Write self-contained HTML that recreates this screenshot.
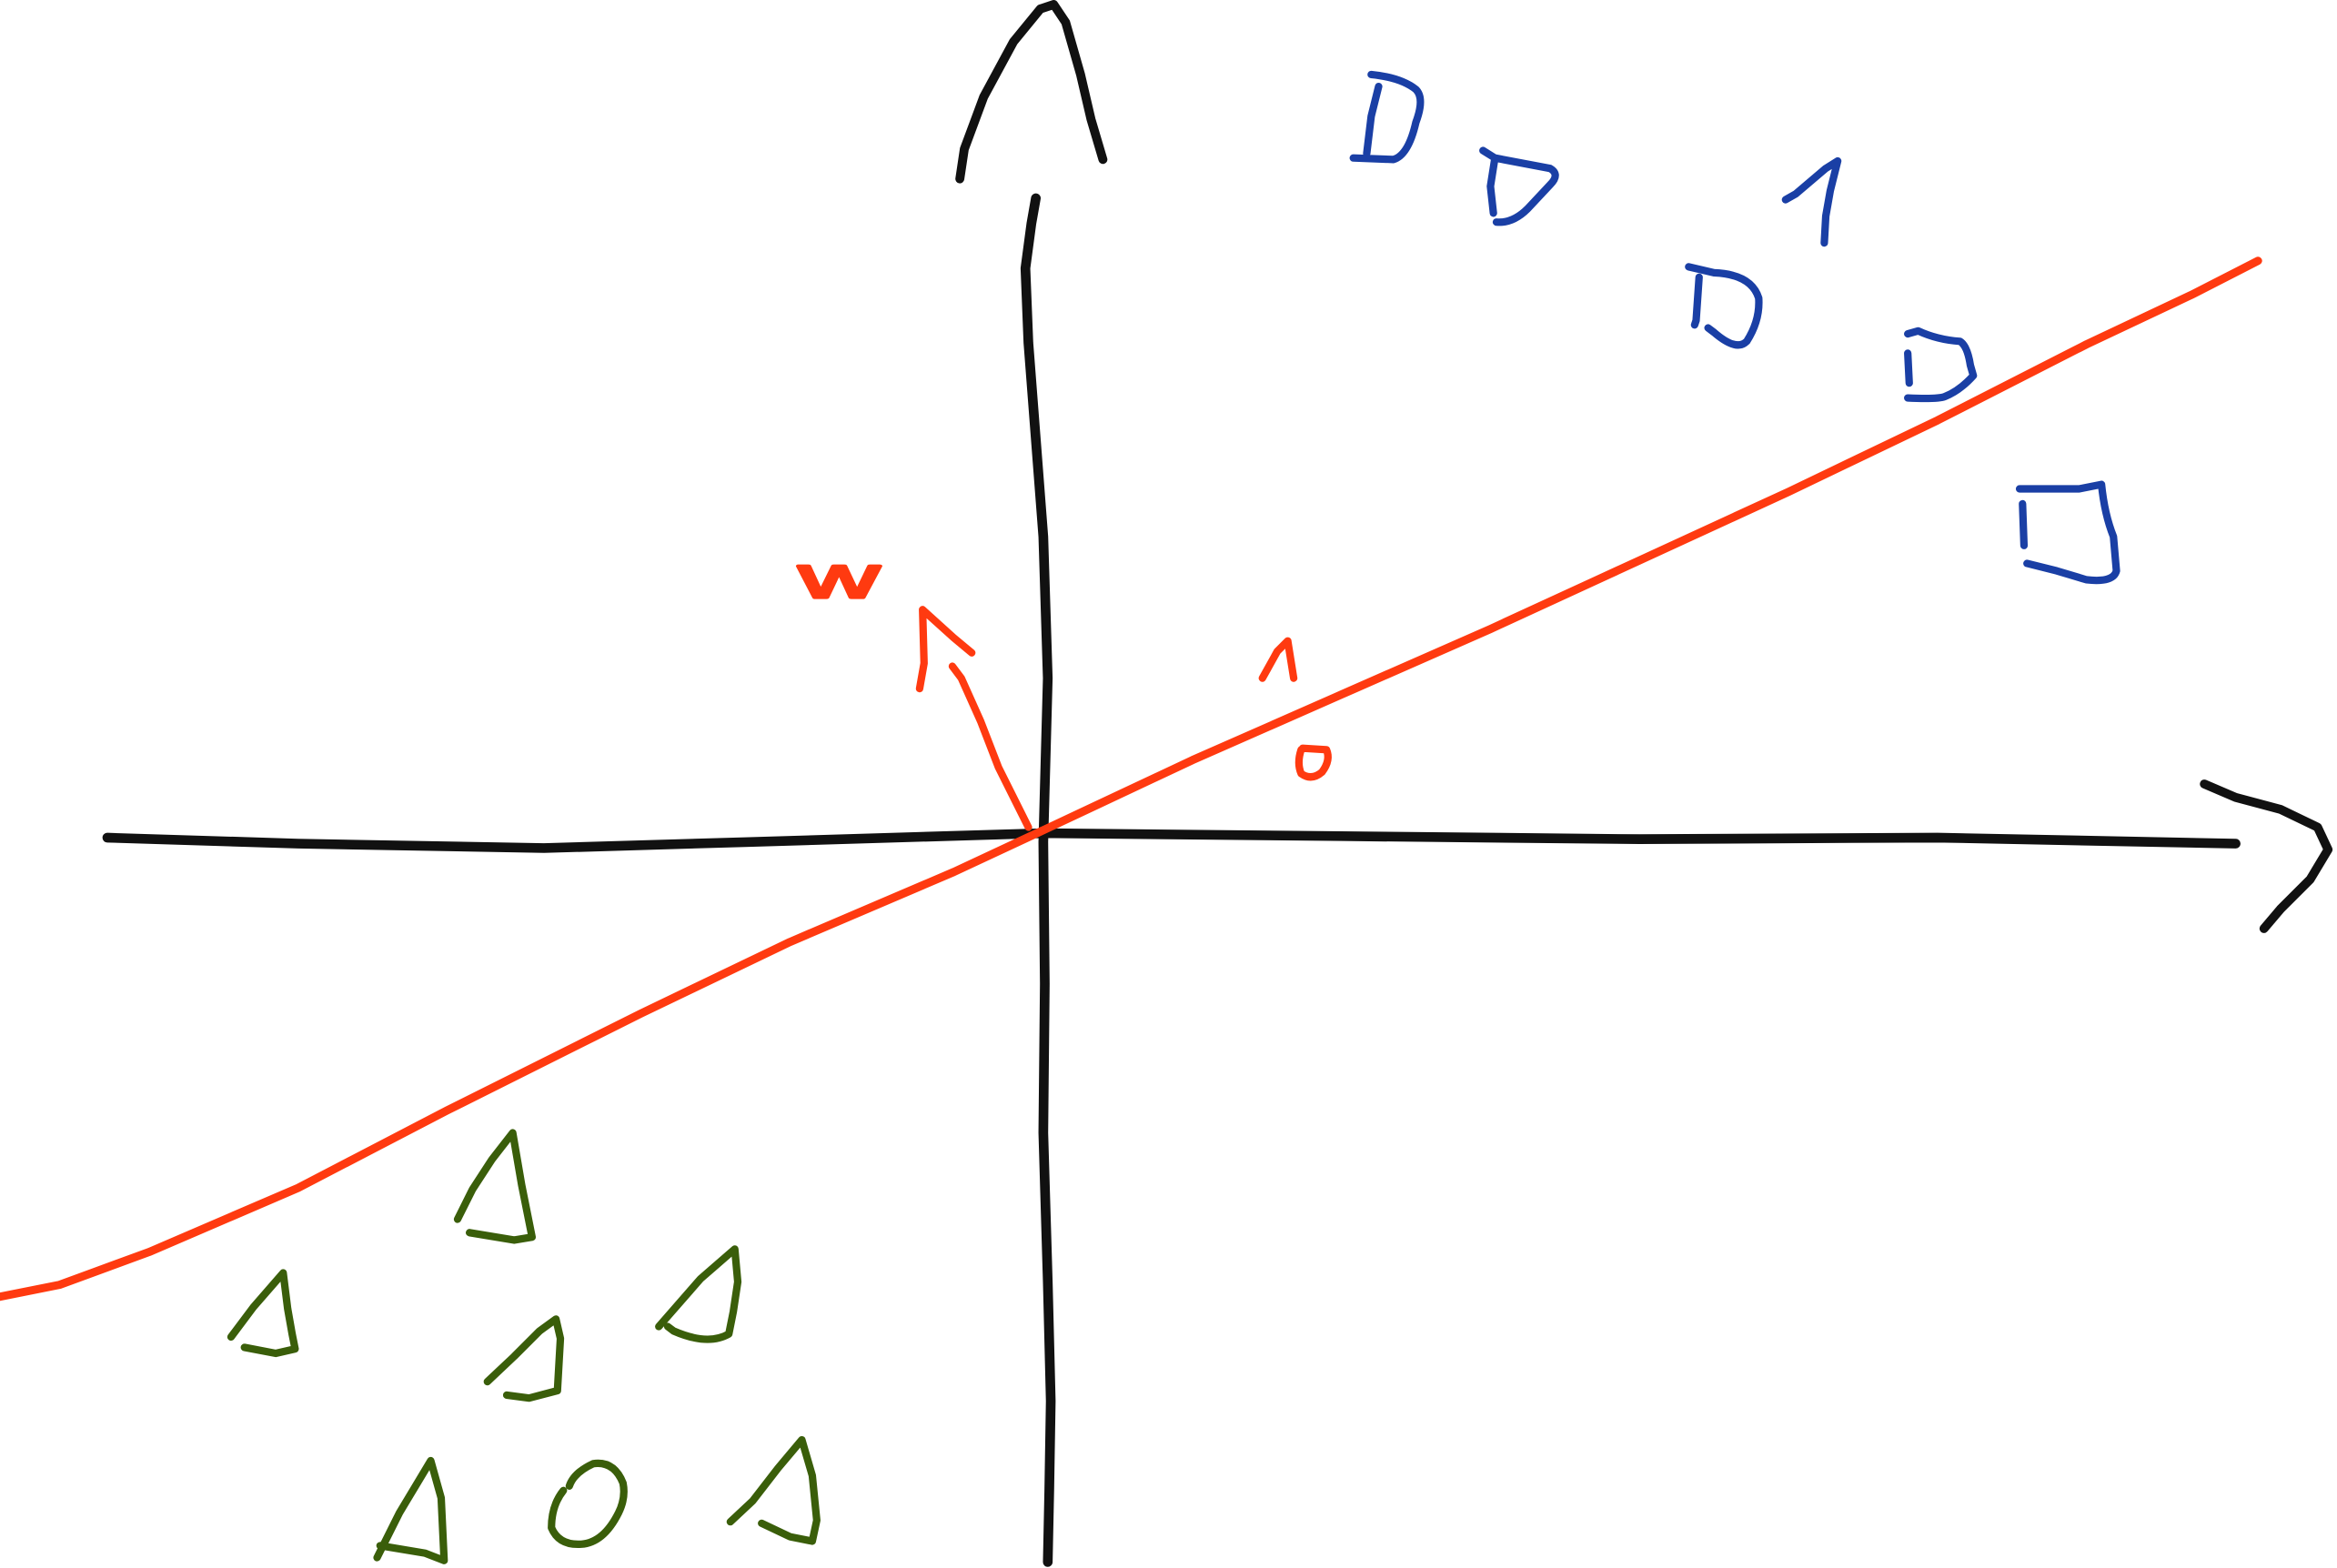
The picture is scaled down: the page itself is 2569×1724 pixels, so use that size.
<!DOCTYPE html>
<html>
<head>
<meta charset="utf-8">
<style>
html,body{margin:0;padding:0;background:#fff;}
svg{display:block;width:2569px;height:1724px;}
</style>
</head>
<body>
<svg viewBox="0 0 1568 1052" preserveAspectRatio="none" xmlns="http://www.w3.org/2000/svg">
<g fill="none" stroke-linecap="round" stroke-linejoin="round">
<!-- Y axis -->
<g stroke="#111">
<path d="M703 1048 L704 1000 L705 940 L703 860 L700 760 L701 660 L700 565 L703 455 L700 360 L690 230 L688 180 L692 150 L695 133" stroke-width="6.5"/>
<path d="M644 120 L647 100 L660 65 L680 28 L698 6 L707 3 L715 15 L725 50 L732 80 L740 107" stroke-width="6"/>
<!-- X axis -->
<path d="M72 562 L200 566 L365 569 L500 565 L700 559 L900 561 L1100 563 L1300 562 L1500 566" stroke-width="6.5"/>
<path d="M1479 526 L1500 535 L1530 543 L1555 555 L1562 570 L1550 590 L1530 610 L1519 623" stroke-width="6"/>
</g>
<!-- red separator line -->
<path d="M0 870 L40 862 L100 840 L200 797 L300 745 L430 680 L530 632 L640 585 L700 557 L800 510 L900 466 L1000 422 L1100 376 L1200 330 L1300 282 L1400 231 L1470 198 L1515 175" stroke="#ff3a10" stroke-width="5.5"/>
<!-- w vector -->
<g stroke="#ff3a10" stroke-width="5">
<path d="M690 555 L670 515 L658 484 L645 455 L639 447"/>
<path d="M617 462 L620 445 L619 409 L640 428 L652 438"/>
<path d="M847 455 L857 437 L864 430 L868 455"/>
<path d="M874 502 L890 503 Q893 510 887 518 Q880 524 873 519 Q870 512 873 503"/>
</g>
<text x="536" y="401" font-family="Liberation Sans, sans-serif" font-size="40" fill="#ff3a10" stroke="#ff3a10" stroke-width="2" textLength="54" lengthAdjust="spacingAndGlyphs">w</text>
<!-- blue squares -->
<g stroke="#1a3fa5" stroke-width="5">
<path d="M925 58 L920 78 L917 103 M908 106 L935 107 Q945 104 950 82 Q956 66 950 60 Q940 52 920 50"/>
<path d="M995 101 L1003 106 L1000 125 L1002 143 M1003 106 L1040 113 Q1047 117 1040 124 L1025 140 Q1015 150 1004 149"/>
<path d="M1198 134 L1205 130 L1225 113 L1233 108 L1228 128 L1225 145 L1224 163"/>
<path d="M1133 179 L1150 183 Q1175 184 1180 200 Q1181 215 1172 229 Q1165 236 1150 223 L1146 220 M1140 186 L1138 215 L1137 218"/>
<path d="M1280 224 L1287 222 Q1300 228 1315 229 Q1320 232 1322 245 L1324 252 Q1315 262 1305 266 Q1300 268 1280 267 M1280 237 L1281 257"/>
<path d="M1355 328 L1395 328 L1410 325 Q1412 345 1418 360 L1420 383 Q1418 391 1400 389 L1380 383 L1360 378 M1357 338 L1358 366"/>
</g>
<!-- green triangles -->
<g stroke="#3a5e0a" stroke-width="5">
<path d="M307 818 L317 798 L330 778 L344 760 L350 795 L357 830 L345 832 L315 827"/>
<path d="M155 897 L170 877 L190 854 L193 878 L196 895 L198 905 L185 908 L164 904"/>
<path d="M327 927 L345 910 L362 893 L373 885 L376 898 L374 933 L355 938 L340 936"/>
<path d="M442 890 L470 858 L493 838 L495 860 L492 880 L489 895 Q475 903 452 893 L448 890"/>
<path d="M253 1045 L268 1015 L280 995 L289 980 L296 1005 L298 1047 L285 1042 L255 1037"/>
<path d="M490 1021 L505 1007 L522 985 L538 966 L545 990 L548 1020 L545 1034 L530 1031 L511 1022"/>
<path d="M378 1000 Q370 1010 370 1025 Q375 1037 390 1036 Q405 1035 415 1015 Q420 1005 418 995 Q412 980 398 982 Q385 988 382 997"/>
</g>
</g>
</svg>
</body>
</html>
